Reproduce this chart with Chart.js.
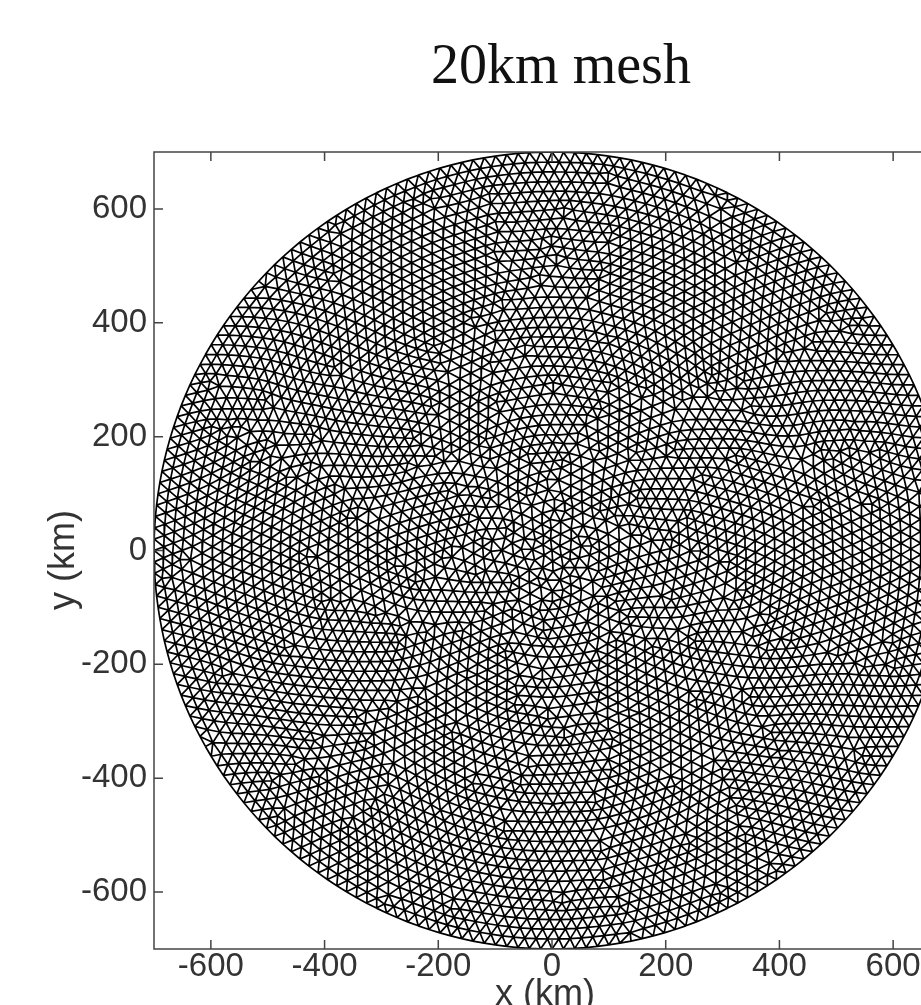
<!DOCTYPE html>
<html>
<head>
<meta charset="utf-8">
<title>20km mesh</title>
<script src="https://cdn.jsdelivr.net/npm/chart.js@4/dist/chart.umd.min.js"></script>
<style>
  html, body { margin: 0; background: #fff; overflow: hidden; }
  #page { position: relative; width: 921px; height: 1005px; overflow: hidden; }
  #heading { position: absolute; left: 0; width: 1122px; top: 32px; text-align: center;
    font: 56px/64px "Liberation Serif", serif; color: #111; }
  #mesh { position: absolute; left: 0; top: 0; filter: blur(0.7px); }
</style>
</head>
<body>
<div id="page">
  <div id="heading">20km mesh</div>
  <canvas id="mesh" width="1000" height="1020"></canvas>
</div>
<script>
// The mesh is a reconstruction: shell radii and node counts are estimated from the
// picture (about 20 km edges), individual nodes and edges are not read one by one.
const ringRadii = [700,683,666,649,632,615,598,581,564,547,530,513,496,479,462,445,428,411,394,377,360,343,326,309,292,275,258,241,224,207,190,173,156,139,122,105,88,71,54,37,20,0];
const ringNodes = [220,215,209,204,199,193,188,183,177,172,167,161,156,150,145,140,134,129,124,118,113,108,102,97,92,86,81,76,70,65,60,54,49,44,38,33,28,22,17,12,6,1];
const ringPhase = [0,37,112,201,64,158,289,23,175,318,92,246,11,133,271,54,197,340,76,221,149,8,295,118,62,236,17,184,327,88,143,265,39,206,311,71,167,252,29,120,44,0];
const xTickValues = [-600,-400,-200,0,200,400,600];
const yTickValues = [-600,-400,-200,0,200,400,600];

const nodes = [];
const ringStart = [];
ringRadii.forEach((r, k) => {
  ringStart.push(nodes.length);
  for (let i = 0; i < ringNodes[k]; i++) {
    const a = (ringPhase[k] + i * 360 / ringNodes[k]) * Math.PI / 180;
    nodes.push({ x: r * Math.cos(a), y: r * Math.sin(a), a: a, fixed: k === 0 });
  }
});

const edgePairs = [];
function dist2(a, b) {
  return (nodes[a].x - nodes[b].x) ** 2 + (nodes[a].y - nodes[b].y) ** 2;
}
ringRadii.forEach((r, k) => {
  const s = ringStart[k], n = ringNodes[k];
  if (n > 1) for (let i = 0; i < n; i++) edgePairs.push([s + i, s + (i + 1) % n]);
  if (k + 1 === ringRadii.length) return;
  const t = ringStart[k + 1], m = ringNodes[k + 1];
  // nearest inner node to start from
  let j0 = 0;
  for (let j = 1; j < m; j++) if (dist2(s, t + j) < dist2(s, t + j0)) j0 = j;
  // zip the two shells together, taking the shorter diagonal each step
  let i = 0, j = 0;
  edgePairs.push([s, t + j0]);
  while (i < n || j < m) {
    const da = i < n ? dist2(s + (i + 1) % n, t + (j0 + j) % m) : Infinity;
    const db = j < m ? dist2(s + i % n, t + (j0 + j + 1) % m) : Infinity;
    if (da <= db) i++; else j++;
    edgePairs.push([s + i % n, t + (j0 + j) % m]);
  }
});

// even the cells out: each inner node moves to the middle of its neighbours
const neighbours = nodes.map(() => []);
edgePairs.forEach(([a, b]) => { neighbours[a].push(b); neighbours[b].push(a); });
for (let pass = 0; pass < 4; pass++) {
  nodes.forEach((p, i) => {
    if (p.fixed) return;
    let sx = 0, sy = 0;
    neighbours[i].forEach(q => { sx += nodes[q].x; sy += nodes[q].y; });
    p.x = sx / neighbours[i].length;
    p.y = sy / neighbours[i].length;
  });
}

const meshEdges = [];
edgePairs.forEach(([a, b]) => {
  meshEdges.push({ x: nodes[a].x, y: nodes[a].y }, { x: nodes[b].x, y: nodes[b].y }, { x: null, y: null });
});

const frameColor = '#444';
const labelColor = '#333';
const sansFamily = '"Liberation Sans", sans-serif';
const frameAndTicks = {
  id: 'frameAndTicks',
  afterDatasetsDraw(chart) {
    const { ctx, chartArea: a, scales } = chart;
    ctx.save();
    ctx.strokeStyle = frameColor;
    ctx.lineWidth = 1.5;
    ctx.strokeRect(a.left, a.top, a.right - a.left, a.bottom - a.top);
    ctx.beginPath();
    xTickValues.forEach(v => {
      const px = scales.x.getPixelForValue(v);
      ctx.moveTo(px, a.bottom); ctx.lineTo(px, a.bottom - 9);
      ctx.moveTo(px, a.top); ctx.lineTo(px, a.top + 9);
    });
    yTickValues.forEach(v => {
      const py = scales.y.getPixelForValue(v);
      ctx.moveTo(a.left, py); ctx.lineTo(a.left + 9, py);
      ctx.moveTo(a.right, py); ctx.lineTo(a.right - 9, py);
    });
    ctx.stroke();
    // axis names sit a little off centre in the original
    ctx.fillStyle = labelColor;
    ctx.font = '36px ' + sansFamily;
    ctx.textAlign = 'center';
    ctx.textBaseline = 'middle';
    ctx.fillText('x (km)', 545, 995);
    ctx.translate(64, 560);
    ctx.rotate(-Math.PI / 2);
    ctx.fillText('y (km)', 0, 0);
    ctx.restore();
  }
};

const tickFont = { family: sansFamily, size: 33 };

new Chart(document.getElementById('mesh').getContext('2d'), {
  type: 'scatter',
  data: {
    datasets: [{
      data: meshEdges,
      showLine: true,
      spanGaps: false,
      borderColor: '#000',
      borderWidth: 1.7,
      pointRadius: 0,
      pointHoverRadius: 0
    }]
  },
  plugins: [frameAndTicks],
  options: {
    responsive: false,
    animation: false,
    events: [],
    layout: { padding: { top: 152, right: 50, left: 0, bottom: 0 } },
    plugins: { legend: { display: false }, tooltip: { enabled: false } },
    scales: {
      x: {
        type: 'linear', min: -700, max: 700,
        afterBuildTicks: s => { s.ticks = xTickValues.map(v => ({ value: v })); },
        afterFit: s => { s.height = 71; },
        grid: { display: false },
        border: { display: false },
        ticks: { font: tickFont, color: labelColor, padding: -10, maxRotation: 0, autoSkip: false }
      },
      y: {
        type: 'linear', min: -700, max: 700,
        afterBuildTicks: s => { s.ticks = yTickValues.map(v => ({ value: v })); },
        afterFit: s => { s.width = 154; },
        grid: { display: false },
        border: { display: false },
        ticks: { font: tickFont, color: labelColor, padding: -1, autoSkip: false }
      }
    }
  }
});
</script>
</body>
</html>
